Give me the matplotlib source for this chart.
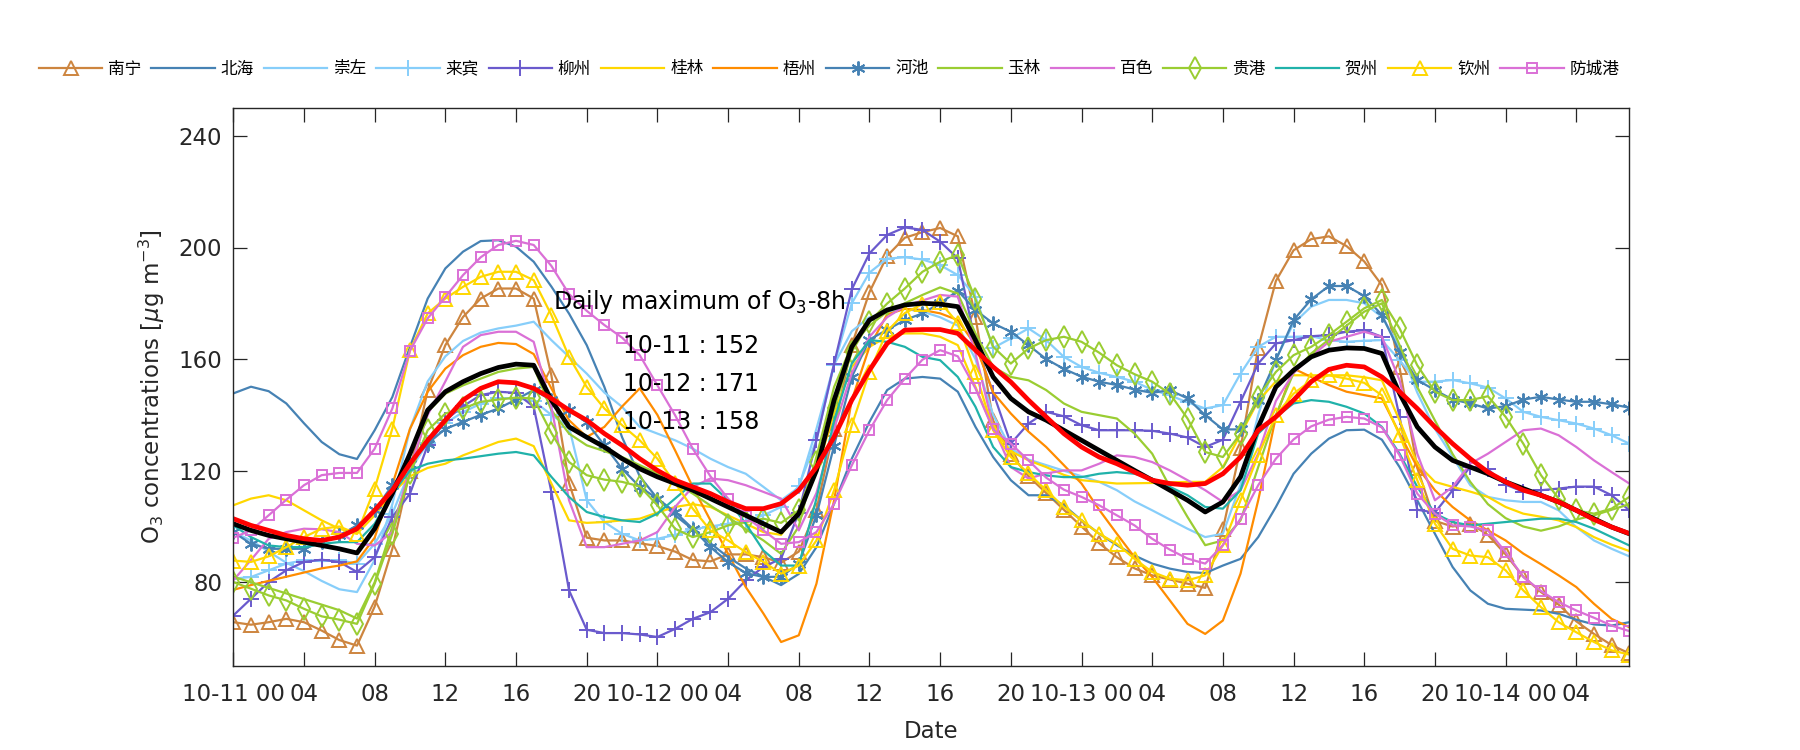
import numpy as np
import matplotlib
matplotlib.use('Agg')
import matplotlib.pyplot as plt

# hourly O3 (ug m-3), 10-11 00:00 to 10-14 07:00
hours = np.arange(80)

nanning = [65.7, 64.8, 65.7, 66.9, 65.7, 62.7, 59.3, 57.3, 71.3, 92.0,
           120, 148.8, 165, 175.1, 181.7, 185.3, 185.3, 181.7, 154.2, 115.6,
           96, 95, 95, 94, 93, 91, 88, 87.5, 90, 90,
           89, 87, 91, 106, 135, 165, 184, 197, 203.5, 205.5,
           207, 204, 175, 138, 126, 118, 112, 106, 100, 94,
           89, 85, 82.5, 81, 79.5, 78, 99, 128, 164, 188,
           199, 203, 204, 200.5, 195, 186.5, 157, 121, 102, 100,
           101, 97, 90, 82, 76.5, 72, 66, 61.5, 57.5, 54.5]
beihai = [147.7, 150.1, 148.5, 144.1, 137, 130.3, 125.9, 124.2, 134.5, 146.4,
          164.4, 181.7, 192.5, 198.5, 202.3, 202.6, 200.3, 194.9, 186, 176.3,
          165, 150, 132, 118, 110, 104, 99, 94, 89, 85,
          82, 79, 83, 92.6, 108.2, 124.3, 137.5, 148.9, 153, 153.6,
          153, 148.3, 135.7, 124.9, 116.6, 111.2, 111.2, 107.6, 102.2, 97.4,
          93.3, 89.6, 86.7, 84.9, 83.7, 83.3, 86, 88.4, 96.2, 107,
          118.9, 126.1, 131.5, 134.5, 134.7, 131.1, 121.3, 109.4, 97.4, 85.5,
          77.1, 72.3, 70.5, 70.2, 69.9, 68.7, 66.6, 64.9, 64.5, 65.7]
chongzuo = [98, 95, 91, 87, 84, 80.5, 77.5, 76.5, 88, 108,
            135, 152, 161, 166.5, 169.5, 171, 172, 173.4, 166.8, 160.8,
            154.8, 148, 142.9, 135.7, 133.3, 130.9, 127.9, 124.3, 121.3, 118.9,
            114.2, 109.4, 114, 135, 158, 170, 175, 177, 178, 177,
            175, 172, 160, 140, 128, 124, 122, 120, 118, 116,
            113, 109, 105.8, 102.5, 99.2, 96.2, 97.4, 115, 140, 160,
            172.8, 178.8, 181.2, 181.2, 180, 175.1, 164.4, 148, 135, 125,
            114.8, 110.6, 109.4, 108.8, 108.8, 105.8, 99.8, 95, 92, 89.3]
laibin = [81.3, 81.9, 84.3, 86.7, 87.9, 87.6, 87.9, 86.7, 93.8, 104.6,
          120, 130, 137, 141, 144, 146, 146, 145, 140, 135.7,
          109.4, 101.6, 97.4, 95, 95.6, 97, 99, 100, 101, 102,
          104, 107, 114.5, 131, 158, 180, 191, 196, 196.5, 195.7,
          193.7, 190.1, 182.4, 164, 167.4, 171, 166.8, 160.8, 157.2, 155.1,
          153.6, 151.9, 149, 147, 144.5, 142.3, 143.5, 154.8, 164.4, 168,
          168, 168.2, 166.8, 166.2, 166.6, 166.8, 159.6, 151.9, 151.9, 152.5,
          151.3, 149.8, 145.9, 141.1, 139.3, 138.1, 136.9, 135.1, 132.7, 129.7]
liuzhou = [68.1, 74.1, 80.1, 84.3, 87.3, 88.1, 87.3, 83.7, 89.0, 103.4,
           111.8, 129.1, 138.1, 143.1, 147.1, 148.3, 147.9, 142.9, 112.4, 77.1,
           63, 61.8, 61.8, 61.3, 60.4, 63.3, 66.9, 69.3, 74.1, 80.7,
           85.5, 88.5, 105, 130.9, 158.4, 185, 197.9, 204.5, 207.2, 206.3,
           202.1, 196.1, 165.6, 148, 129.7, 136.9, 141.1, 139.5, 136.3, 134.5,
           134.5, 134.5, 134.3, 133.3, 131.9, 128.5, 131.1, 144.7, 158.4, 165.6,
           166.8, 168.2, 168.6, 169.8, 170.4, 168, 139.3, 106, 105, 113,
           121.5, 120.5, 115, 112.5, 113, 113.6, 114.3, 114.3, 111.2, 105.8]
guilin = [107.6, 110, 111.2, 109.4, 105.8, 102.2, 99.2, 97.4, 104, 112,
          118, 121, 122.5, 125.5, 127.9, 130.3, 131.5, 128.8, 115.4, 102.2,
          101.3, 101.6, 102.2, 102.8, 105, 107, 108, 107, 104, 101,
          98, 97, 105.8, 120, 140.5, 157.2, 164.4, 168, 169.2, 169.2,
          168, 165, 150, 135, 127, 123.7, 121.3, 118.5, 116.6, 116,
          115.4, 115.5, 115.6, 115.8, 116, 116, 121.3, 133, 145, 152,
          154.2, 154.2, 154.2, 154.2, 153.5, 152.4, 138, 122.5, 116, 114.2,
          112.5, 110.6, 107, 104.6, 103.5, 102.2, 99.8, 96.2, 93.5, 91.2]
wuzhou = [77.3, 79, 80.5, 82, 83.5, 85, 86, 87.5, 96, 115,
          135, 148.3, 156.6, 161.4, 164.4, 165.8, 165.4, 161.8, 149.5, 138.1,
          132.1, 135.7, 143, 149.5, 140, 127.3, 114.2, 102.2, 90.2, 78.3,
          68.8, 58.6, 61, 79.5, 109.4, 145.3, 164.4, 176, 178, 177.6,
          176.4, 174, 165, 148, 140.5, 134, 128.5, 122, 115.4, 106,
          97.4, 89, 81.9, 73.5, 65.1, 61.5, 66.3, 83.1, 109.4, 139.3,
          156.6, 153.6, 150.7, 148.3, 147.1, 145.9, 133.3, 121.3, 113, 107,
          102.2, 98.6, 95, 90.3, 86.5, 82.5, 78.3, 72.3, 66.9, 63.9]
hechi = [98, 93.8, 92, 92, 92, 94.4, 96.8, 100.4, 105.8, 114.8,
         122.5, 129.7, 135, 137.5, 140, 142.3, 145.5, 148.9, 145.3, 141.7,
         137.3, 129.1, 120.7, 114.2, 110, 105.2, 99.2, 92.6, 87.3, 83.3,
         81.9, 82, 86.7, 104, 129, 153.6, 167, 170.5, 174, 176.4,
         180, 184.5, 177.6, 172.8, 169.8, 165, 160, 156.5, 153.7, 151.9,
         150.7, 149.1, 147.9, 148.9, 145.9, 139.9, 134.8, 134.8, 145.3, 159.6,
         174, 181.4, 186.2, 186.2, 182.6, 175.8, 162.6, 152.5, 148.9, 145.5,
         144.1, 142.3, 143.1, 145.5, 146.5, 145.5, 144.7, 144.7, 143.8, 142.6]
yulin = [82, 80, 78, 76, 74, 72, 70, 67, 80, 100,
         119, 141, 147.6, 150.6, 153, 155.4, 156.6, 157.2, 141.7, 133.3,
         129.1, 127, 124.9, 122, 119, 115.5, 111.8, 107.5, 103.4, 99,
         95, 90.2, 100, 125, 150, 165, 172, 177, 180, 183,
         185.7, 183.5, 169.2, 157.2, 153.6, 152.4, 148.9, 144.1, 141.1, 139.9,
         138.7, 133.3, 126.1, 114.2, 103.4, 93.3, 95, 102.2, 121.3, 140,
         155, 162, 167, 172, 177, 180, 165, 150, 138, 126,
         116, 108, 103, 100, 98.5, 100, 102.5, 104, 106, 108]
baise = [80.7, 88, 95.6, 98, 99.2, 99, 98, 93.8, 93.2, 98,
         121, 140, 152, 164.4, 168.6, 169.8, 169.8, 166.2, 142.9, 109.4,
         92.6, 92.6, 93.8, 95, 98, 107, 114.2, 117.2, 116.6, 114.8,
         112.4, 110, 98.6, 112, 135, 155, 168, 175, 179, 181,
         183, 182.4, 162, 135.7, 121.3, 117.2, 119, 120.1, 120.1, 122.5,
         125.5, 124.9, 123.1, 120.1, 116.6, 113, 108.8, 113, 126.1, 145,
         155, 161, 166.2, 168, 169.8, 168, 152.4, 126.1, 109.4, 114.2,
         122.5, 126.1, 130.3, 134.5, 135.1, 132.7, 128.5, 123.7, 119.5, 115.4]
guigang = [80.1, 77.7, 75.3, 73.5, 70.5, 67.8, 66.6, 65.1, 79.5, 97.4,
           119, 134.5, 140.5, 142.3, 144.7, 145.5, 146.2, 145.9, 133.5, 123.1,
           118.4, 116.8, 116, 114.4, 107.6, 99.2, 96.2, 98, 100.4, 101.6,
           102.8, 101.3, 105.8, 123, 142.3, 162.6, 173.4, 179.9, 185.3, 191.3,
           194.9, 197.3, 181.4, 164.4, 158.4, 163.8, 166.8, 168, 166.2, 162.3,
           157.8, 154.6, 151.9, 147.6, 138.7, 126.7, 124.9, 133.3, 146.5, 155.4,
           161.4, 164.4, 168.6, 173.4, 178.2, 181.2, 171, 157.8, 148.3, 145.3,
           145.3, 146.7, 139.3, 129.7, 118.4, 110, 105.8, 104.6, 106.4, 110.6]
hezhou = [100.4, 96.2, 93.2, 92.6, 92.6, 93.8, 94.4, 94.4, 101, 111.8,
          120.1, 122.5, 123.7, 124.3, 125.2, 126.1, 126.7, 125.5, 117.8, 110.6,
          105.2, 103.4, 102.2, 101.6, 104.6, 110, 115.4, 115.4, 109.4, 101,
          91.4, 86, 86, 110, 138, 158.4, 166.8, 166.2, 164.4, 160.8,
          159.6, 153.6, 142.9, 128.5, 121.3, 119.5, 118.3, 117.7, 117.7, 118.9,
          119.5, 118.9, 117.2, 114.2, 111.2, 107, 106.4, 113, 133.3, 139.3,
          144.1, 145.3, 144.7, 142.9, 140.5, 135.7, 126.1, 114.2, 104.6, 101.6,
          100.4, 101, 101.6, 102.2, 102.8, 102.8, 101.6, 99.2, 96.2, 93.2]
qinzhou = [87.8, 87.3, 89.3, 92.6, 96.2, 99.2, 100, 97.4, 113.6, 135.1,
           163.2, 176.4, 181.7, 185.9, 189.5, 191.3, 191.3, 188.3, 175.8, 160.8,
           150, 142.3, 136.3, 130.9, 124.3, 115.6, 106.4, 98.6, 95, 90.8,
           87.3, 83.1, 86, 95, 113, 136.3, 155.4, 170, 176.5, 179.7,
           180.4, 172.9, 155.3, 134.5, 124.9, 119, 113, 107, 102.2, 97.4,
           93.8, 88.4, 83.7, 81.3, 80.7, 82.5, 93.3, 109.4, 125.5, 139.9,
           147.6, 152.4, 154.2, 153, 151.5, 147, 132.7, 116.6, 101, 92,
           89.6, 89, 84.3, 77.1, 71.1, 65.7, 62.1, 58.6, 55.6, 54.1]
fangchenggang = [96, 98.6, 104, 109.6, 114.8, 118.4, 119.2, 119.2, 127.9, 142.3,
                 163, 174.6, 182.3, 190.1, 196.5, 200.9, 202.4, 200.9, 193.4, 183.3,
                 177.3, 172.2, 167.7, 161.4, 150.6, 139.9, 127.9, 118, 110, 103.6,
                 98.6, 93.8, 94.4, 98, 108.2, 121.9, 134.5, 145.3, 153, 159.8,
                 163.2, 161, 149.5, 134.8, 129.7, 123.7, 117.5, 113.2, 110.6, 107.6,
                 104, 100.4, 95.6, 91.7, 88.5, 86.7, 93.3, 102.8, 114.8, 124.3,
                 131.2, 135.9, 138.3, 139.3, 138.7, 135.5, 125.5, 111.8, 104.6, 100.4,
                 100, 98.6, 90.8, 81.9, 76.9, 72.9, 69.9, 67.3, 64.5, 62.5]
# thick black and red curves
black_line = [101, 98.6, 96.8, 95.6, 94.4, 93.2, 92, 90.5, 99.2, 111.8,
              126.1, 141.7, 148.3, 151.9, 154.8, 157, 158.2, 157.8, 145.3, 135.7,
              132, 128.5, 124.3, 120.7, 117.8, 115.4, 113, 110, 107, 104,
              101, 98, 104.6, 120.1, 145.3, 164.4, 174, 177.6, 179.4, 180,
              179.7, 178.8, 166.8, 153.6, 145.9, 141.1, 138.1, 134.5, 130.9, 127.3,
              123.7, 120.1, 116.6, 113, 109.4, 105.2, 108.8, 117.8, 135.7, 150,
              156, 160.8, 163.2, 164, 163.8, 162, 147.7, 135.7, 128.5, 123.7,
              121.3, 118.9, 116, 113.6, 111.2, 108.8, 105.8, 102.8, 99.8, 97.4]
red_line = [102.8, 100.4, 98.6, 96.8, 95.6, 95, 96.2, 99.2, 105.8, 113,
            122.5, 130.9, 138.1, 145.3, 149.5, 151.9, 151.5, 149.5, 145.9, 141.7,
            138.1, 133.3, 129.1, 124.3, 120.1, 116.6, 114.2, 111.8, 108.8, 106.4,
            106.4, 108.2, 113, 121.3, 132.1, 145.3, 156, 165.6, 170.4, 170.6,
            170.6, 169.2, 163.2, 157.2, 151.8, 145.3, 139.3, 133.3, 128.5, 124.9,
            122.5, 119.5, 116.6, 115.4, 114.8, 115.4, 118.9, 124.9, 134.5, 139.3,
            145.3, 151.9, 156.3, 157.8, 157.2, 153.6, 148.3, 142.3, 135.7, 129.7,
            124.3, 119.5, 116, 113, 111.2, 108.8, 105.8, 102.5, 99.8, 97.5]

station_names = ['南宁', '北海', '崇左', '来宾', '柳州', '桂林', '梧州',
                 '河池', '玉林', '百色', '贵港', '贺州', '钦州', '防城港']
station_values = [nanning, beihai, chongzuo, laibin, liuzhou, guilin, wuzhou,
                  hechi, yulin, baise, guigang, hezhou, qinzhou, fangchenggang]

daily_max_days = ['10-11', '10-12', '10-13']
daily_max_values = [152, 171, 158]

tick_hours = list(range(0, 80, 4))
tick_labels = [f'10-{11 + h // 24} 00' if h % 24 == 0 else f'{h % 24:02d}'
               for h in tick_hours]

# (color, marker, markersize)
styles = [
    ('#CD853F', '^', 10),
    ('#4682B4', None, 0),
    ('#87CEFA', None, 0),
    ('#87CEFA', '+', 11),
    ('#6A5ACD', '+', 11),
    ('#FFD700', None, 0),
    ('#FF8C00', None, 0),
    ('#4682B4', (6, 2, 0), 10),
    ('#9ACD32', None, 0),
    ('#DA70D6', None, 0),
    ('#9ACD32', 'd', 11),
    ('#20B2AA', None, 0),
    ('#FFD700', '^', 10),
    ('#DA70D6', 's', 7),
]

plt.rcParams['font.family'] = ['DejaVu Sans', 'Noto Sans CJK SC']
plt.rcParams['mathtext.fontset'] = 'dejavusans'

fig = plt.figure(figsize=(18, 7.5), dpi=100)
ax = fig.add_axes([233.3 / 1800, 84 / 750, 1396 / 1800, 558 / 750])

handles = []
for name, vals, (col, mk, ms) in zip(station_names, station_values, styles):
    h, = ax.plot(hours, vals, color=col, lw=1.6, marker=mk, markersize=ms,
                 markerfacecolor='none', markeredgecolor=col, markeredgewidth=1.4,
                 label=name)
    handles.append(h)

ax.plot(hours, black_line, color='black', lw=3.4)
ax.plot(hours, red_line, color='red', lw=3.4)

ax.set_xlim(0, 79)
ax.set_ylim(50, 250)
ax.set_xticks(tick_hours)
ax.set_xticklabels(tick_labels)
ax.set_yticks([80, 120, 160, 200, 240])
ax.tick_params(direction='in', length=10, width=0.9, labelsize=16.5,
               top=True, right=True, colors='#262626')
ax.tick_params(axis='x', pad=12)
ax.tick_params(axis='y', pad=8)
for sp in ax.spines.values():
    sp.set_linewidth(1.0)
    sp.set_color('#262626')

ax.set_xlabel('Date', fontsize=16.5, color='#262626', labelpad=10)
ax.set_ylabel(r'O$_3$ concentrations [$\mu$g m$^{-3}$]', fontsize=16.5,
              color='#262626', labelpad=8)

ax.text(0.229, 0.653, r'Daily maximum of O$_3$-8h', transform=ax.transAxes,
        fontsize=17, va='center', ha='left')
for i, (d, v) in enumerate(zip(daily_max_days, daily_max_values)):
    ax.text(0.279, 0.574 - i * 0.0683, f'{d} : {v}', transform=ax.transAxes,
            fontsize=17, va='center', ha='left')

fig.legend(handles=handles, loc='center left',
           bbox_to_anchor=(39 / 1800, 1 - 69 / 750), ncol=14, frameon=False,
           prop={'family': ['Noto Sans CJK SC', 'DejaVu Sans'], 'size': 12},
           handlelength=3.8, handletextpad=0.35, columnspacing=0.6,
           borderpad=0, borderaxespad=0)

fig.savefig('out.png', dpi=100)
